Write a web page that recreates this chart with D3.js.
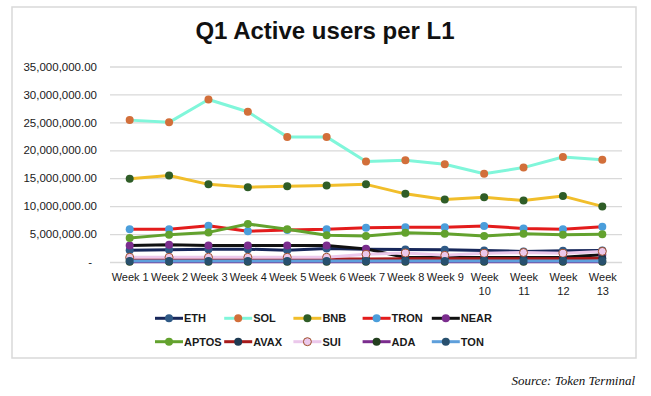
<!DOCTYPE html>
<html lang="en">
<head>
  <meta charset="UTF-8">
  <title>Q1 Active users per L1</title>
  <style>
    body { margin: 0; background: #fff; }
    svg { display: block; font-family: 'Liberation Sans', Arial, Helvetica, sans-serif; }
  </style>
</head>
<body>
  <svg id="svg" width="651" height="396"></svg>
  <script src="https://d3js.org/d3.v7.min.js"></script>
  <script>
    // weekly active users
    const weeks = ['Week 1', 'Week 2', 'Week 3', 'Week 4', 'Week 5', 'Week 6', 'Week 7',
      'Week 8', 'Week 9', 'Week 10', 'Week 11', 'Week 12', 'Week 13']
    const yTicks = [0, 5e6, 10e6, 15e6, 20e6, 25e6, 30e6, 35e6]

    const eth = [2.1e6, 2.2e6, 2.3e6, 2.3e6, 2.1e6, 2.4e6, 2.3e6, 2.25e6, 2.2e6, 2.05e6, 1.9e6, 2.0e6, 2.05e6]
    const sol = [25.4e6, 25.0e6, 29.1e6, 26.9e6, 22.4e6, 22.4e6, 18.0e6, 18.2e6, 17.5e6, 15.8e6, 16.9e6, 18.8e6, 18.3e6]
    const bnb = [14.9e6, 15.5e6, 13.9e6, 13.4e6, 13.55e6, 13.7e6, 13.9e6, 12.2e6, 11.2e6, 11.6e6, 11.0e6, 11.8e6, 9.95e6]
    const tron = [5.85e6, 5.85e6, 6.5e6, 5.5e6, 5.75e6, 5.85e6, 6.15e6, 6.2e6, 6.2e6, 6.45e6, 6.0e6, 5.85e6, 6.3e6]
    const near = [2.95e6, 3.1e6, 2.95e6, 2.95e6, 2.95e6, 2.95e6, 2.35e6, 0.8e6, 0.8e6, 0.8e6, 0.8e6, 0.85e6, 1.3e6]
    const aptos = [4.3e6, 4.9e6, 5.3e6, 6.8e6, 5.85e6, 4.8e6, 4.65e6, 5.25e6, 5.05e6, 4.65e6, 5.05e6, 4.9e6, 4.95e6]
    const avax = [0.55e6, 0.55e6, 0.55e6, 0.55e6, 0.55e6, 0.55e6, 0.55e6, 0.6e6, 0.6e6, 0.6e6, 0.6e6, 0.6e6, 0.65e6]
    const sui = [0.85e6, 0.85e6, 0.85e6, 0.85e6, 0.85e6, 0.85e6, 1.4e6, 1.6e6, 1.2e6, 1.55e6, 1.7e6, 1.55e6, 1.9e6]
    const ada = [0.05e6, 0.05e6, 0.05e6, 0.05e6, 0.05e6, 0.05e6, 0.05e6, 0.05e6, 0.05e6, 0.05e6, 0.05e6, 0.05e6, 0.05e6]
    const ton = [0.2e6, 0.2e6, 0.2e6, 0.2e6, 0.2e6, 0.2e6, 0.2e6, 0.2e6, 0.2e6, 0.2e6, 0.2e6, 0.2e6, 0.2e6]

    const series = [
      { name: 'ETH', values: eth },
      { name: 'SOL', values: sol },
      { name: 'BNB', values: bnb },
      { name: 'TRON', values: tron },
      { name: 'NEAR', values: near },
      { name: 'APTOS', values: aptos },
      { name: 'AVAX', values: avax },
      { name: 'SUI', values: sui },
      { name: 'ADA', values: ada },
      { name: 'TON', values: ton }
    ]

    // line colour, marker fill, marker outline
    const styles = {
      ETH: { line: '#17275a', fill: '#2f5a86' },
      SOL: { line: '#80f6da', fill: '#d26f3a' },
      BNB: { line: '#f1be2b', fill: '#2f5d27' },
      TRON: { line: '#e31c1c', fill: '#4b9edb' },
      NEAR: { line: '#111111', fill: '#7b2d8e' },
      APTOS: { line: '#63a22e', fill: '#63a22e' },
      AVAX: { line: '#a61b1b', fill: '#1e3a52' },
      SUI: { line: '#ebc8eb', fill: '#ebc8eb', stroke: '#9f4f2a' },
      ADA: { line: '#7b2d8e', fill: '#233f1f' },
      TON: { line: '#5e9fdb', fill: '#28506e' }
    }

    const svg = d3.select('#svg')

    // outer chart frame
    svg.append('rect')
      .attr('x', 12).attr('y', 7)
      .attr('width', 624).attr('height', 351)
      .attr('fill', 'none')
      .attr('stroke', '#d9d9d9')
      .attr('stroke-width', 1.5)

    svg.append('text')
      .attr('x', 325).attr('y', 39)
      .attr('text-anchor', 'middle')
      .attr('font-size', 24)
      .attr('font-weight', 'bold')
      .attr('fill', '#111')
      .text('Q1 Active users per L1')

    const x = d3.scalePoint().domain(weeks).range([110, 622]).padding(0.5)
    const y = d3.scaleLinear().domain([0, 35e6]).range([262, 66.5])

    const fmt = d3.format(',.2f')

    // y axis with gridlines
    const yAxis = svg.append('g')
      .attr('transform', 'translate(110,0)')
      .call(d3.axisLeft(y).tickValues(yTicks).tickSize(-512).tickPadding(13)
        .tickFormat(d => d === 0 ? '-' : fmt(d)))
    yAxis.select('.domain').remove()
    yAxis.selectAll('line').attr('stroke', '#d9d9d9').attr('stroke-width', 1.3)
    yAxis.selectAll('text')
      .attr('font-size', 11.5)
      .attr('fill', '#1a1a1a')
      .attr('font-family', "'Liberation Sans', Arial, sans-serif")
      .attr('dx', d => d === 0 ? -5 : 0)

    // x axis labels, wrapped when wider than a category
    const xAxis = svg.append('g')
      .attr('transform', 'translate(0,262)')
      .call(d3.axisBottom(x).tickSize(0).tickPadding(11))
    xAxis.select('.domain').remove()
    xAxis.selectAll('text')
      .attr('font-size', 11)
      .attr('fill', '#1a1a1a')
      .attr('font-family', "'Liberation Sans', Arial, sans-serif")
      .each(function (d) {
        const t = d3.select(this)
        if (this.getComputedTextLength() > x.step() - 1) {
          const words = d.split(' ')
          t.text(null)
          words.forEach((w, i) => {
            t.append('tspan').attr('x', 0).attr('dy', i === 0 ? '0.71em' : '1.3em').text(w)
          })
        }
      })

    const line = d3.line()
      .x((d, i) => x(weeks[i]))
      .y(d => y(d))

    // Excel-style: each series draws its line then its markers
    series.forEach(s => {
      const st = styles[s.name]
      const g = svg.append('g')
      g.append('path')
        .datum(s.values)
        .attr('d', line)
        .attr('fill', 'none')
        .attr('stroke', st.line)
        .attr('stroke-width', 3)
        .attr('stroke-linejoin', 'round')
      g.selectAll('circle')
        .data(s.values)
        .join('circle')
        .attr('cx', (d, i) => x(weeks[i]))
        .attr('cy', d => y(d))
        .attr('r', 4)
        .attr('fill', st.fill)
        .attr('stroke', st.stroke || 'none')
        .attr('stroke-width', 1)
    })

    // legend, two rows of five
    const legend = svg.append('g')
    series.forEach((s, i) => {
      const st = styles[s.name]
      const lx = 155 + (i % 5) * 69.2
      const ly = i < 5 ? 318.3 : 341.7
      const item = legend.append('g').attr('transform', `translate(${lx},${ly})`)
      item.append('line')
        .attr('x1', 0).attr('x2', 28)
        .attr('stroke', st.line).attr('stroke-width', 3)
      item.append('circle')
        .attr('cx', 14).attr('r', 4)
        .attr('fill', st.fill)
        .attr('stroke', st.stroke || 'none')
      item.append('text')
        .attr('x', 29).attr('dy', '0.36em')
        .attr('font-size', 11)
        .attr('font-weight', 'bold')
        .attr('fill', '#1a1a1a')
        .text(s.name)
    })

    svg.append('text')
      .attr('x', 635).attr('y', 385)
      .attr('text-anchor', 'end')
      .attr('font-family', "'Liberation Serif', 'Times New Roman', serif")
      .attr('font-style', 'italic')
      .attr('font-size', 13)
      .attr('fill', '#111')
      .text('Source: Token Terminal')
  </script>
</body>
</html>
